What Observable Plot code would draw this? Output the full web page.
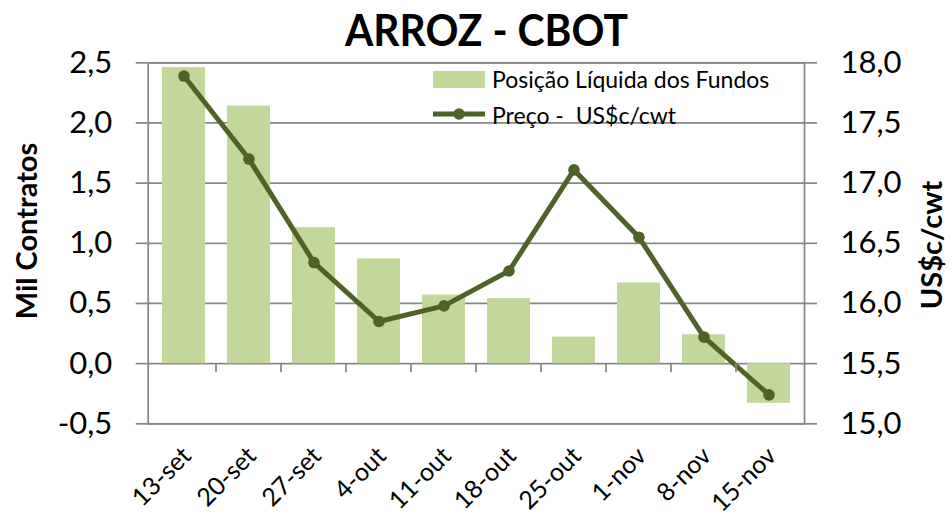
<!DOCTYPE html>
<html>
<head>
<meta charset="utf-8">
<script src="https://cdn.jsdelivr.net/npm/d3@7"></script>
<script src="https://cdn.jsdelivr.net/npm/@observablehq/plot@0.6"></script>
<style>
  html, body { margin: 0; padding: 0; background: #fff; }
  #chart { width: 952px; height: 527px; }
  svg { font-family: Lato, "Noto Sans", sans-serif; }
</style>
</head>
<body>
<div id="chart"></div>
<script>
const categories = ["13-set","20-set","27-set","4-out","11-out","18-out","25-out","1-nov","8-nov","15-nov"];
const positions = [2.46, 2.14, 1.13, 0.87, 0.57, 0.54, 0.22, 0.67, 0.24, -0.33];
const prices = [17.89, 17.20, 16.34, 15.85, 15.98, 16.27, 17.11, 16.55, 15.72, 15.24];
const leftTicks = [-0.5, 0, 0.5, 1.0, 1.5, 2.0, 2.5];
const rightTicks = [15.0, 15.5, 16.0, 16.5, 17.0, 17.5, 18.0];
const title = "ARROZ - CBOT";
const leftLabel = "Mil Contratos";
const rightLabel = "US$c/cwt";
const barLabel = "Posição Líquida dos Fundos";
const lineLabel = "Preço -  US$c/cwt";

const barColor = "#c4d79b";
const lineColor = "#4f6228";
const gridColor = "#878787";

// right axis maps linearly onto the left one: 15.0 -> -0.5, 18.0 -> 2.5
const offset = rightTicks[0] - leftTicks[0];
const toLeft = p => p - offset;
const fmt = d => d.toFixed(1).replace(".", ",");

const data = categories.map((c, i) => ({cat: c, pos: positions[i], price: prices[i], py: toLeft(prices[i])}));

const plot = Plot.plot({
  width: 952,
  height: 527,
  marginTop: 62.3,
  marginBottom: 103.7,
  marginLeft: 147.7,
  marginRight: 148,
  style: {fontFamily: "Lato, 'Noto Sans', sans-serif", background: "white", color: "black"},
  x: {domain: categories, paddingInner: 0.34, paddingOuter: 0.17},
  y: {domain: [leftTicks[0], leftTicks[leftTicks.length - 1]]},
  marks: [
    Plot.gridY(leftTicks, {stroke: gridColor, strokeOpacity: 1, strokeWidth: 1.75}),
    Plot.barY(data, {x: "cat", y1: 0, y2: "pos", fill: barColor}),
    Plot.frame({stroke: gridColor, strokeWidth: 1.75}),
    Plot.axisY({anchor: "left", ticks: leftTicks, tickFormat: fmt, tickSize: 12, tickPadding: 24,
      fontSize: 31, stroke: gridColor, strokeWidth: 1.75, fill: "black", label: null}),
    Plot.axisY({anchor: "right", ticks: leftTicks, tickFormat: d => fmt(d + offset), tickSize: 12, tickPadding: 24,
      fontSize: 31, stroke: gridColor, strokeWidth: 1.75, fill: "black", label: null}),
    Plot.axisX({anchor: "bottom", tickSize: 0, tickPadding: 14, tickRotate: -45, fontSize: 25,
      fill: "black", label: null, dx: 3, dy: 14}),
    Plot.line(data, {x: "cat", y: "py", stroke: lineColor, strokeWidth: 5}),
    Plot.dot(data, {x: "cat", y: "py", r: 5.8, fill: lineColor, stroke: "none"})
  ]
});

document.getElementById("chart").appendChild(plot);

const svg = d3.select(plot);
const xs = plot.scale("x");
const ys = plot.scale("y");
const y0 = ys.apply(0);
const step = xs.step;
// category boundary tick marks on the 0-line
categories.forEach((c, i) => {
  if (i === 0) return;
  const xb = xs.apply(c) - (step - xs.bandwidth) / 2;
  svg.append("line").attr("x1", xb).attr("x2", xb).attr("y1", y0).attr("y2", y0 + 9)
    .attr("stroke", gridColor).attr("stroke-width", 1.75);
});

// title
svg.append("text").attr("x", 345).attr("y", 46).attr("text-anchor", "start")
  .attr("font-family", "Lato, sans-serif").attr("font-weight", "bold")
  .attr("font-size", 43).attr("textLength", 283).attr("lengthAdjust", "spacingAndGlyphs")
  .attr("fill", "black").text(title);

// axis titles
svg.append("text").attr("transform", "translate(37,231) rotate(-90)").attr("text-anchor", "middle")
  .attr("font-weight", "bold").attr("font-size", 29).attr("fill", "black").text(leftLabel);
svg.append("text").attr("transform", "translate(942,245) rotate(-90)").attr("text-anchor", "middle")
  .attr("font-weight", "bold").attr("font-size", 29).attr("fill", "black").text(rightLabel);

// legend
const lg = svg.append("g").attr("text-anchor", "start");
lg.append("rect").attr("x", 433).attr("y", 71).attr("width", 52).attr("height", 17).attr("fill", barColor);
lg.append("text").attr("x", 492).attr("y", 88).attr("text-anchor", "start").attr("font-size", 23)
  .attr("fill", "black").text(barLabel);
lg.append("line").attr("x1", 433).attr("x2", 485).attr("y1", 114).attr("y2", 114)
  .attr("stroke", lineColor).attr("stroke-width", 5);
lg.append("circle").attr("cx", 459).attr("cy", 114).attr("r", 5.8).attr("fill", lineColor);
lg.append("text").attr("x", 492).attr("y", 124).attr("text-anchor", "start").attr("font-size", 23)
  .attr("fill", "black").style("white-space", "pre").text(lineLabel);
</script>
</body>
</html>
